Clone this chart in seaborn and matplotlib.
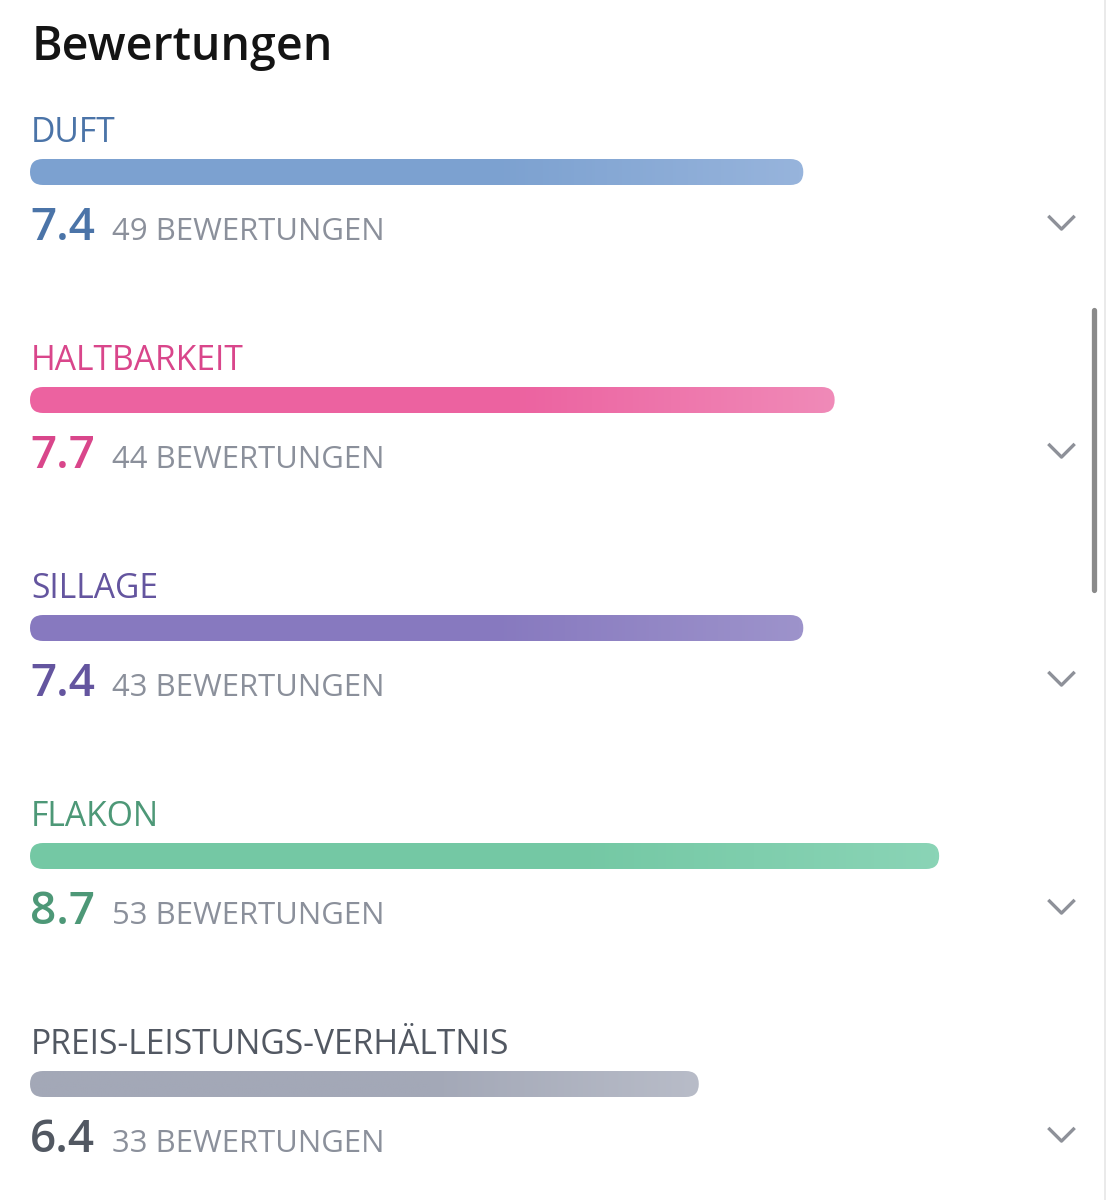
import matplotlib
matplotlib.use("Agg")
import numpy as np
import pandas as pd
import matplotlib.pyplot as plt
import seaborn as sns
from matplotlib.patches import FancyBboxPatch
from matplotlib.colors import LinearSegmentedColormap
from matplotlib.transforms import offset_copy, blended_transform_factory
from matplotlib.path import Path
from matplotlib.lines import Line2D

# data
categories = ["DUFT", "HALTBARKEIT", "SILLAGE", "FLAKON", "PREIS-LEISTUNGS-VERHÄLTNIS"]
scores = [7.4, 7.7, 7.4, 8.7, 6.4]
counts = [49, 44, 43, 53, 33]

text_colors = ["#4b74a8", "#d9468b", "#64559f", "#4d9877", "#525862"]
bar_left = ["#7ca1d0", "#ec62a0", "#8779bf", "#74c8a4", "#a3a8b7"]
bar_right = ["#97b4dc", "#f08ab8", "#9d93cb", "#8ad4b6", "#b8bcc8"]

W, H = 1107, 1200
sns.set_theme(style="white")
plt.rcParams["font.family"] = ["Open Sans", "DejaVu Sans"]

fig = plt.figure(figsize=(W / 100, H / 100), dpi=100)
fig.patch.set_facecolor("white")

# bar area: 0..10 across x pixels 30..1075, rows 228 px apart
ax_l, ax_r, ax_t, ax_b = 30, 1075, 58, 1198
ax = fig.add_axes([ax_l / W, 1 - ax_b / H, (ax_r - ax_l) / W, (ax_b - ax_t) / H])

df = pd.DataFrame({"category": categories, "score": scores})
sns.barplot(data=df, x="score", y="category", hue="category", palette=bar_left,
            legend=False, width=26 / 228, orient="h", ax=ax)

ax.set_xlim(0, 10)
ax.set_ylim(len(categories) - 0.5, -0.5)
ax.set_axis_off()

ppx = (ax_r - ax_l) / 10.0
ppy = (ax_b - ax_t) / len(categories)
asp = ppx / ppy

# swap the plain bars for rounded gradient ones
for i, p in enumerate(list(ax.patches)):
    bb = p.get_bbox()
    x0, x1 = bb.x0, bb.x1
    y0, y1 = min(bb.y0, bb.y1), max(bb.y0, bb.y1)
    p.set_visible(False)
    hgt = y1 - y0
    r = hgt * ppy / 2 / ppx * 0.999
    rounded = FancyBboxPatch((x0, y0), x1 - x0, hgt,
                             boxstyle=f"round,pad=0,rounding_size={r}",
                             mutation_aspect=asp, facecolor="none", edgecolor="none")
    ax.add_patch(rounded)
    cmap = LinearSegmentedColormap.from_list(
        f"g{i}", [(0, bar_left[i]), (0.6, bar_left[i]), (1, bar_right[i])])
    grad = np.linspace(0, 1, 256).reshape(1, -1)
    im = ax.imshow(grad, extent=[x0, x1, y1, y0], aspect="auto", cmap=cmap,
                   interpolation="bilinear", zorder=3)
    im.set_clip_path(rounded)

ax.set_xlim(0, 10)
ax.set_ylim(len(categories) - 0.5, -0.5)

# texts around each bar
chev = Path([(-1, 0.5), (0, -0.5), (1, 0.5)],
            [Path.MOVETO, Path.LINETO, Path.LINETO])
chev_tr = blended_transform_factory(ax.transAxes, ax.transData)
for i, cat in enumerate(categories):
    ax.text(0, i, cat, transform=offset_copy(ax.transData, fig=fig, x=1, y=30, units="dots"),
            fontsize=24.2, color=text_colors[i], va="baseline", ha="left")
    ax.text(0, i, f"{scores[i]:.1f}",
            transform=offset_copy(ax.transData, fig=fig, x=0, y=-68, units="dots"),
            fontsize=33, fontweight="semibold", color=text_colors[i],
            va="baseline", ha="left")
    ax.text(0, i, f"{counts[i]} BEWERTUNGEN",
            transform=offset_copy(ax.transData, fig=fig, x=82, y=-68, units="dots"),
            fontsize=22.4, color="#8b909b", va="baseline", ha="left")
    ax.plot([(1061 - ax_l) / (ax_r - ax_l)], [i], marker=chev, markersize=19,
            markerfacecolor="none", markeredgecolor="#8e9199", markeredgewidth=2.4,
            transform=offset_copy(chev_tr, fig=fig, x=0, y=-50, units="dots"),
            clip_on=False)

fig.text(32 / W, 1 - 60 / H, "Bewertungen", fontsize=33.5, fontweight="semibold",
         color="#141414", va="baseline", ha="left")

# scrollbar and right border
fig.add_artist(Line2D([1094 / W, 1094 / W], [1 - 310 / H, 1 - 590 / H],
                      color="#8a8a8a", linewidth=3.8, solid_capstyle="round"))
fig.add_artist(Line2D([1105 / W, 1105 / W], [0, 1], color="#e6e6e6", linewidth=1.2))

fig.savefig("out.png", dpi=100, facecolor="white")
